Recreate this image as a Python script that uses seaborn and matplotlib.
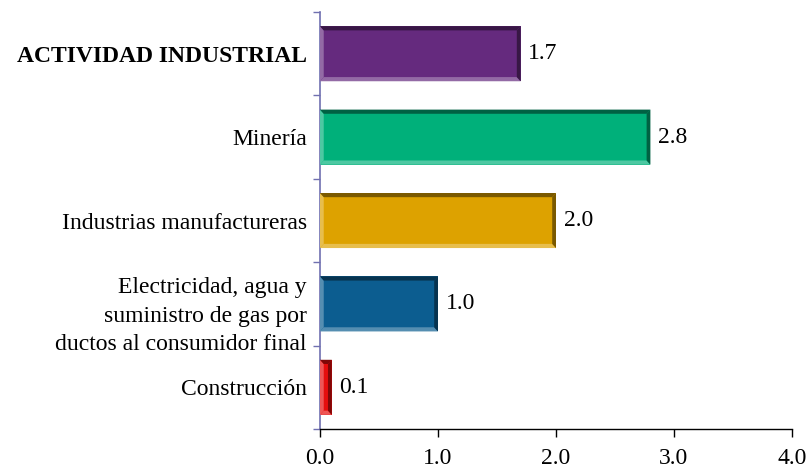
import matplotlib
matplotlib.use("Agg")
import matplotlib.pyplot as plt
from matplotlib.patches import Polygon
import matplotlib.colors as mcolors
import matplotlib.transforms as mtransforms
import numpy as np
import seaborn as sns
import pandas as pd

categories = [
    "ACTIVIDAD INDUSTRIAL",
    "Minería",
    "Industrias manufactureras",
    "Electricidad, agua y\nsuministro de gas por\nductos al consumidor final",
    "Construcción",
]
values = [1.7, 2.8, 2.0, 1.0, 0.1]
value_labels = ["1.7", "2.8", "2.0", "1.0", "0.1"]
bar_colors = ["#652a7e", "#00b07a", "#dda200", "#0c5d90", "#e60d0d"]
x_ticks = [0.0, 1.0, 2.0, 3.0, 4.0]

sns.set_style("white")
plt.rcParams["font.family"] = ["Liberation Serif", "DejaVu Serif"]
plt.rcParams["text.color"] = "black"
plt.rcParams["xtick.color"] = "black"
plt.rcParams["ytick.color"] = "black"

FS = 17


def shade(color, amount):
    """Mix a colour toward white (amount > 0) or black (amount < 0)."""
    rgb = np.array(mcolors.to_rgb(color))
    if amount >= 0:
        return tuple(rgb + (1 - rgb) * amount)
    return tuple(rgb * (1 + amount))


df = pd.DataFrame({"cat": categories, "val": values})

fig = plt.figure(figsize=(8.09, 4.70), dpi=100)
ax = fig.add_axes([0.3955, 0.0872, 0.5835, 0.8872])

sns.barplot(data=df, y="cat", x="val", hue="cat", palette=bar_colors,
            orient="h", width=0.66, legend=False, ax=ax, saturation=1)

ax.set_xlim(0, 4.0)
ax.set_ylim(4.5, -0.5)

# bevelled edges: dark along top/right, light along left/bottom
dx, dy = 0.032, 0.05
for patch, col in zip(list(ax.patches), bar_colors):
    patch.set_linewidth(0)
    x, y = patch.get_x(), patch.get_y()
    w, h = patch.get_width(), patch.get_height()
    dark = shade(col, -0.45)
    light = shade(col, 0.3)
    top = [(x, y), (x + w, y), (x + w - dx, y + dy), (x + dx, y + dy)]
    right = [(x + w, y), (x + w, y + h), (x + w - dx, y + h - dy), (x + w - dx, y + dy)]
    bottom = [(x, y + h), (x + w, y + h), (x + w - dx, y + h - dy), (x + dx, y + h - dy)]
    left = [(x, y), (x, y + h), (x + dx, y + h - dy), (x + dx, y + dy)]
    for pts, c in [(left, light), (bottom, light), (top, dark), (right, dark)]:
        ax.add_patch(Polygon(pts, closed=True, facecolor=c, edgecolor="none", zorder=3))

for i, (v, lab) in enumerate(zip(values, value_labels)):
    ax.text(v + 0.065, i, lab, va="center", ha="left", fontsize=FS, color="black")

ax.set_xticks(x_ticks)
ax.set_xticklabels([f"{t:.1f}" for t in x_ticks], fontsize=FS)
ax.set_xlabel("")
ax.set_ylabel("")

ax.set_yticks(range(len(categories)))
ax.set_yticklabels(categories, fontsize=FS, ha="right", multialignment="right",
                   linespacing=1.48)
ax.get_yticklabels()[0].set_fontweight("bold")
ax.tick_params(axis="y", which="major", left=False, pad=6)
ax.set_yticks([i + 0.5 for i in range(-1, len(categories))], minor=True)
ax.tick_params(axis="y", which="minor", left=True, length=5, color="#7070b0",
               width=1, direction="out")
ax.tick_params(axis="x", bottom=True, length=6, color="black", width=1,
               direction="out", pad=8)

# the three-line label sits a little lower than its band centre
multi = ax.get_yticklabels()[3]
multi.set_transform(multi.get_transform()
                    + mtransforms.ScaledTranslation(0, -0.06, fig.dpi_scale_trans))

for side in ["top", "right"]:
    ax.spines[side].set_visible(False)
ax.spines["left"].set_color("#7070b0")
ax.spines["left"].set_linewidth(1.2)
ax.spines["bottom"].set_color("black")
ax.spines["bottom"].set_linewidth(1.0)

fig.savefig("out.png", dpi=100)
